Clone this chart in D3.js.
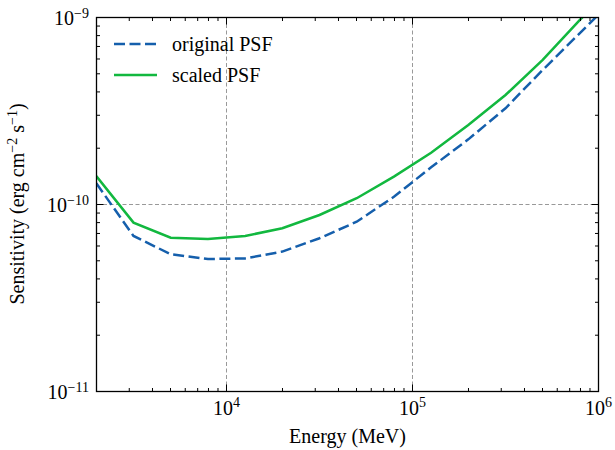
<!DOCTYPE html>
<html><head><meta charset="utf-8">
<script src="https://cdn.jsdelivr.net/npm/d3@7"></script>
</head><body style="margin:0">
<svg id="c" width="615" height="450"></svg>
<script>
const energy = [1995, 3162, 5012, 7943, 12589, 19953, 31623, 50119, 79433, 125893, 199526, 316228, 501187, 794328, 1258925];
const originalPSF = [1.30e-10, 6.79e-11, 5.42e-11, 5.11e-11, 5.15e-11, 5.60e-11, 6.60e-11, 8.09e-11, 1.10e-10, 1.58e-10, 2.23e-10, 3.27e-10, 5.24e-10, 8.26e-10, 1.30e-9];
const scaledPSF = [1.42e-10, 8.0e-11, 6.64e-11, 6.54e-11, 6.79e-11, 7.46e-11, 8.79e-11, 1.08e-10, 1.41e-10, 1.89e-10, 2.66e-10, 3.85e-10, 5.93e-10, 9.7e-10, 1.55e-9];
const seriesNames = ["original PSF", "scaled PSF"];
const xMajor = [1e4, 1e5, 1e6];
const xMajorExp = ["4", "5", "6"];
const yMajor = [1e-11, 1e-10, 1e-9];
const yMajorExp = ["\u221211", "\u221210", "\u22129"];

const svg = d3.select("#c");
const L = 96.5, R = 598.5, T = 17.5, B = 391.5;
const x = d3.scaleLog().domain([2000, 1e6]).range([L, R]);
const y = d3.scaleLog().domain([1e-11, 1e-9]).range([B, T]);
const FONT = "'Liberation Serif', 'Times New Roman'";
const FS = 20, SS = 14;

svg.append("defs").append("clipPath").attr("id", "clip")
  .append("rect").attr("x", L).attr("y", T).attr("width", R - L).attr("height", B - T);

// grid
svg.selectAll(".gx").data(xMajor.filter(v => v < 1e6)).enter().append("line")
  .attr("x1", d => x(d)).attr("x2", d => x(d)).attr("y1", T).attr("y2", B)
  .attr("stroke", "#999").attr("stroke-width", 1).attr("stroke-dasharray", "4,2.5");
svg.selectAll(".gy").data([1e-10]).enter().append("line")
  .attr("x1", L).attr("x2", R).attr("y1", d => y(d)).attr("y2", d => y(d))
  .attr("stroke", "#999").attr("stroke-width", 1).attr("stroke-dasharray", "4,2.5");

// lines
const line = vals => d3.line().x((d, i) => x(energy[i])).y(d => y(d))(vals);
svg.append("path").attr("clip-path", "url(#clip)").attr("d", line(scaledPSF)).attr("fill", "none")
  .attr("stroke", "#12b83f").attr("stroke-width", 2.5);
svg.append("path").attr("clip-path", "url(#clip)").attr("d", line(originalPSF)).attr("fill", "none")
  .attr("stroke", "#155fac").attr("stroke-width", 2.5).attr("stroke-dasharray", "11,4.5");

// axes with inward ticks
const xMinor = [], yMinor = [];
for (const d of [1e3, 1e4, 1e5]) for (let k = 2; k <= 9; k++) { const v = k * d; if (v > 2000 && v < 1e6) xMinor.push(v); }
for (const d of [1e-11, 1e-10]) for (let k = 2; k <= 9; k++) yMinor.push(k * d);

function tick(x1, y1, x2, y2) {
  svg.append("line").attr("x1", x1).attr("y1", y1).attr("x2", x2).attr("y2", y2)
    .attr("stroke", "#000").attr("stroke-width", 1);
}
function xt(vals, len) { vals.forEach(v => { tick(x(v), B, x(v), B - len); tick(x(v), T, x(v), T + len); }); }
function yt(vals, len) { vals.forEach(v => { tick(L, y(v), L + len, y(v)); tick(R, y(v), R - len, y(v)); }); }
xt(xMinor, 3.5); xt(xMajor, 7);
yt(yMinor, 3.5); yt(yMajor, 7);
svg.append("rect").attr("x", L).attr("y", T).attr("width", R - L).attr("height", B - T)
  .attr("fill", "none").attr("stroke", "#000").attr("stroke-width", 1.3);

function txt() {
  return svg.append("text").style("font-family", FONT).attr("font-size", FS).attr("fill", "#000");
}
function sup(t, s, up) {
  t.append("tspan").attr("dy", -up).attr("font-size", SS).text(s);
}

// tick labels
xMajor.forEach((v, i) => {
  const t = txt().attr("x", x(v)).attr("y", 415).attr("text-anchor", "middle");
  t.append("tspan").text("10");
  sup(t, xMajorExp[i], 8);
});
yMajor.forEach((v, i) => {
  const t = txt().attr("x", 89).attr("y", y(v) + 7).attr("text-anchor", "end");
  t.append("tspan").text("10");
  sup(t, yMajorExp[i], 7);
});

// axis titles
txt().attr("x", (L + R) / 2).attr("y", 443).attr("text-anchor", "middle").text("Energy (MeV)");
const yl = txt().attr("transform", "translate(24,204) rotate(-90)").attr("text-anchor", "middle");
yl.append("tspan").text("Sensitivity (erg cm");
sup(yl, "\u22122", 7);
yl.append("tspan").attr("dy", 7).text(" s");
sup(yl, "\u22121", 7);
yl.append("tspan").attr("dy", 7).text(")");

// legend
const legStyles = [{c: "#155fac", dash: "11,4.5"}, {c: "#12b83f", dash: null}];
seriesNames.forEach((n, i) => {
  const yy = 44 + i * 31;
  const l = svg.append("line").attr("x1", 114).attr("x2", 157).attr("y1", yy).attr("y2", yy)
    .attr("stroke", legStyles[i].c).attr("stroke-width", 2.5);
  if (legStyles[i].dash) l.attr("stroke-dasharray", legStyles[i].dash);
  txt().attr("x", 172).attr("y", yy + 6.5).text(n);
});
</script>
</body></html>
